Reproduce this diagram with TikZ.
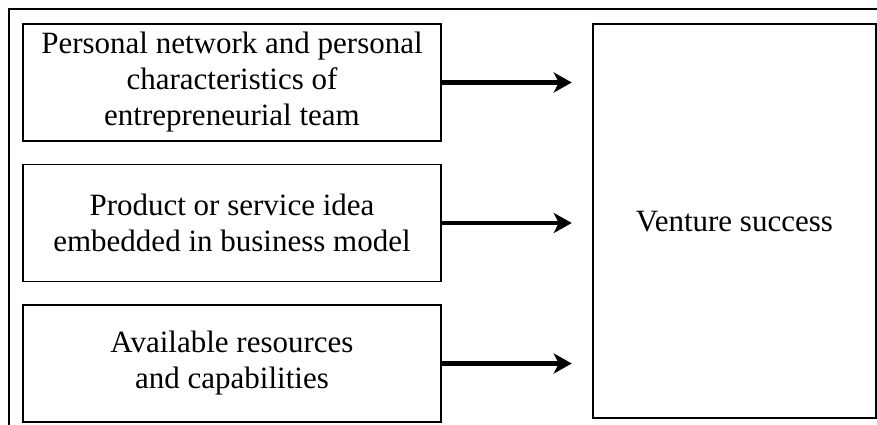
\documentclass[tikz,border=0pt]{standalone}
\usepackage{fontspec}
\setmainfont{Liberation Serif}
\usetikzlibrary{arrows.meta,positioning}

\begin{document}
\begin{tikzpicture}[
  x=1pt, y=1pt,
  node distance=22pt and 150pt,
  box/.style={draw, line width=1.5pt, align=center, inner sep=0pt,
    minimum width=418pt, minimum height=117pt,
    font=\fontsize{31}{36}\selectfont},
  goal/.style={box, line width=2.2pt, minimum width=283pt, minimum height=394pt},
  arrow/.style={-{Stealth[length=18pt, width=20pt, inset=5pt]}, line width=4.5pt}
]
\useasboundingbox (0,0) rectangle (877,-425);
% frame around the figure
\draw[line width=1.3pt] (9,-425) -- (9,-9) -- (877,-9);

\node[box] (team) at (232,-82.5) {Personal network and personal\\characteristics of\\entrepreneurial team};
\node[box, below=of team] (idea) {Product or service idea\\embedded in business model};
\node[box, below=of idea] (res) {Available resources\\and capabilities};
\node[goal, right=150pt of team.north east, anchor=north west] (success) {Venture success};

\draw[arrow] (team.east) -- ([xshift=-20pt]team.east -| success.west);
\draw[arrow] (idea.east) -- ([xshift=-20pt]idea.east -| success.west);
\draw[arrow] (res.east) -- ([xshift=-20pt]res.east -| success.west);
\end{tikzpicture}
\end{document}
